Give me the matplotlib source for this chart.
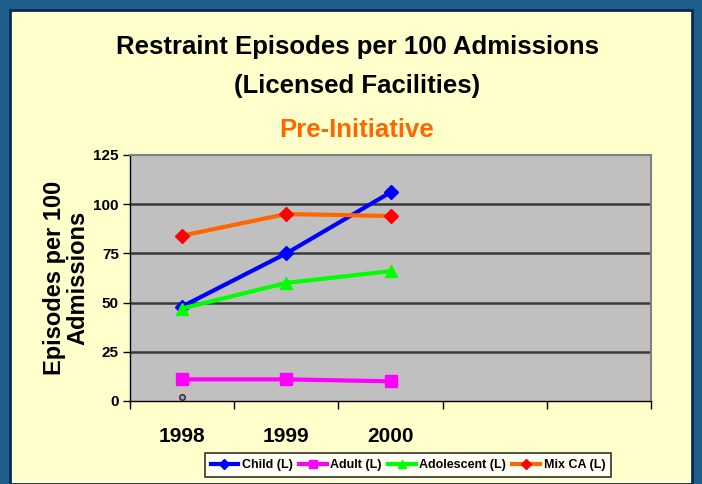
import matplotlib
matplotlib.use("Agg")
import matplotlib.pyplot as plt
from matplotlib import font_manager
from matplotlib.patches import Rectangle

years = ["1998", "1999", "2000"]
n_slots = 5
child = [48, 75, 106]
adult = [11, 11, 10]
adolescent = [47, 60, 66]
mix_ca = [84, 95, 94]
other_1998 = [2]
y_ticks = [0, 25, 50, 75, 100, 125]

names = {f.name for f in font_manager.fontManager.ttflist}
narrow = "Liberation Sans Narrow" if "Liberation Sans Narrow" in names else "Liberation Sans"

fig = plt.figure(figsize=(7.02, 4.84), dpi=100)
fig.patch.set_facecolor("#1d5f8a")
# yellow slide panel
fig.patches.append(Rectangle((10 / 702, 0), 682 / 702, 1 - 10 / 484, transform=fig.transFigure,
                             facecolor="#ffffcc", edgecolor="#0b2a50", linewidth=2, zorder=-5))

ax = fig.add_axes([130 / 702, 1 - 401 / 484, 521 / 702, 246 / 484])
ax.set_facecolor("#c0c0c0")

x = [i + 0.5 for i in range(len(years))]
ax.plot(x, child, color="#0000ff", lw=3, marker="D", ms=7, label="Child (L)", zorder=4)
ax.plot(x, adult, color="#ff00ff", lw=3, marker="s", ms=8, label="Adult (L)", zorder=4)
ax.plot(x, adolescent, color="#00ff00", lw=3, marker="^", ms=9, label="Adolescent (L)", zorder=4)
ax.plot(x, mix_ca, color="#ff6600", lw=3, marker="D", ms=7, mfc="#ff0000", mec="#ff0000",
        label="Mix CA (L)", zorder=4)
ax.plot(x[:1], other_1998, ls="none", marker="o", ms=4, mfc="#33ccff", mec="#800000", zorder=4)

ax.set_xlim(0, n_slots)
ax.set_ylim(0, 125)
ax.set_yticks(y_ticks)
ax.set_yticklabels([str(v) for v in y_ticks], fontsize=11, fontweight="bold", family=narrow)
for v in y_ticks[1:-1]:
    ax.axhline(v, color="#3a3a3a", lw=1.8, zorder=1)

ax.set_xticks(range(n_slots + 1))
ax.set_xticklabels([])
ax.set_xticks(x, minor=True)
ax.set_xticklabels(years, minor=True, fontsize=15, fontweight="bold", family=narrow)
ax.tick_params(axis="x", which="minor", length=0, pad=19)
ax.tick_params(axis="x", which="major", length=6, width=1, direction="out")
ax.tick_params(axis="y", length=5, width=1, direction="out", pad=3)

for s in ["top", "right"]:
    ax.spines[s].set_color("#808080")
    ax.spines[s].set_linewidth(1.5)
for s in ["left", "bottom"]:
    ax.spines[s].set_color("black")
    ax.spines[s].set_linewidth(1)

ax.set_ylabel("Episodes per 100\nAdmissions", fontsize=17, fontweight="bold",
              family="Liberation Sans", labelpad=3, linespacing=1.0)

fig.text(357 / 702, 1 - 47 / 484, "Restraint Episodes per 100 Admissions", ha="center", va="center",
         fontsize=18.5, fontweight="bold", family=narrow)
fig.text(357 / 702, 1 - 86 / 484, "(Licensed Facilities)", ha="center", va="center",
         fontsize=18.5, fontweight="bold", family=narrow)
fig.text(357 / 702, 1 - 130 / 484, "Pre-Initiative", ha="center", va="center",
         fontsize=18.5, fontweight="bold", family=narrow, color="#ff6600")

leg = fig.legend(loc="center", bbox_to_anchor=(408 / 702, 1 - 465 / 484), ncol=4,
                 prop={"family": narrow, "weight": "bold", "size": 9},
                 frameon=True, fancybox=False, edgecolor="black", handlelength=2.2,
                 handletextpad=0.3, columnspacing=0.5, borderpad=0.45, markerscale=0.7)
leg.get_frame().set_linewidth(1.2)
leg.get_frame().set_facecolor("white")

fig.savefig("out.png", dpi=100, facecolor=fig.get_facecolor())
